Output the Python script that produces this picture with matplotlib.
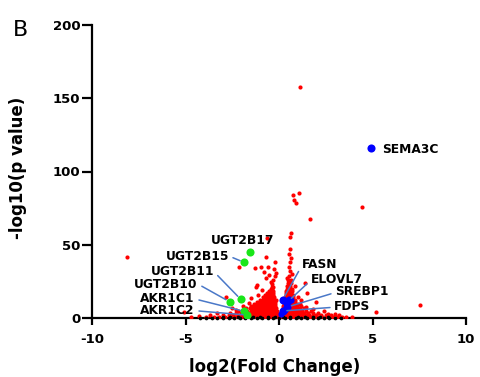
import matplotlib
matplotlib.use('Agg')
import matplotlib.pyplot as plt

plt.rcParams['font.family'] = ['DejaVu Sans']
plt.rcParams['font.weight'] = 'bold'
plt.rcParams['axes.unicode_minus'] = False

# ---- data (log2 FC, -log10 p) ----
# dense red cloud left of zero: row heights and the x positions in each row
left_rows_y = [0.8, 2, 3.5, 5, 6.5, 8, 9.5, 11, 12.5, 14, 15.5, 17, 18.5, 20, 21.5, 23]
left_rows_x = [
    [-3.9, -3.5, -3.2, -2.9, -2.6, -2.35, -2.15, -1.95, -1.8, -1.65, -1.5, -1.35, -1.2, -1.05, -0.9, -0.75, -0.6, -0.45, -0.3, -0.15, -0.05],
    [-3.0, -2.7, -2.45, -2.2, -2.0, -1.85, -1.7, -1.55, -1.4, -1.25, -1.1, -0.95, -0.8, -0.65, -0.5, -0.35, -0.2, -0.08],
    [-2.6, -2.3, -2.05, -1.85, -1.7, -1.55, -1.4, -1.28, -1.15, -1.0, -0.87, -0.73, -0.6, -0.47, -0.33, -0.2, -0.1],
    [-2.2, -1.9, -1.7, -1.52, -1.38, -1.24, -1.1, -0.97, -0.84, -0.71, -0.58, -0.45, -0.32, -0.2, -0.1],
    [-1.75, -1.55, -1.4, -1.26, -1.12, -0.99, -0.86, -0.74, -0.62, -0.5, -0.38, -0.26, -0.15],
    [-1.5, -1.32, -1.18, -1.05, -0.92, -0.8, -0.68, -0.56, -0.44, -0.32, -0.2],
    [-1.35, -1.2, -1.06, -0.93, -0.81, -0.69, -0.57, -0.45, -0.34, -0.22],
    [-1.15, -1.0, -0.88, -0.76, -0.64, -0.52, -0.41, -0.3, -0.2],
    [-1.0, -0.86, -0.74, -0.62, -0.5, -0.39, -0.28, -0.18],
    [-0.85, -0.72, -0.6, -0.48, -0.37, -0.27],
    [-0.75, -0.63, -0.51, -0.4, -0.3],
    [-0.62, -0.5, -0.4, -0.3],
    [-0.55, -0.43, -0.33],
    [-0.45, -0.36],
    [-0.4, -0.3],
    [-0.35],
]
# dense red cloud right of zero
right_rows_y = [0.8, 2, 3.5, 5, 6.5, 8, 9.5, 11, 12.5, 14, 15.5, 17, 18.5, 20, 22, 24, 26]
right_rows_x = [
    [0.05, 0.2, 0.35, 0.5, 0.65, 0.8, 0.95, 1.1, 1.25, 1.4, 1.55, 1.7, 1.85, 2.0, 2.15, 2.3, 2.5, 2.7, 2.9, 3.1, 3.35, 3.6, 3.9],
    [0.1, 0.25, 0.4, 0.55, 0.7, 0.85, 1.0, 1.15, 1.3, 1.45, 1.6, 1.8, 2.0, 2.25, 2.5, 2.8, 3.2],
    [0.12, 0.27, 0.42, 0.57, 0.72, 0.87, 1.02, 1.18, 1.35, 1.55, 1.8, 2.1],
    [0.15, 0.3, 0.45, 0.6, 0.75, 0.9, 1.05, 1.22, 1.45, 1.7],
    [0.2, 0.35, 0.5, 0.65, 0.8, 0.95, 1.12, 1.35],
    [0.22, 0.37, 0.52, 0.67, 0.82, 0.98, 1.15],
    [0.25, 0.4, 0.55, 0.7, 0.85, 1.0],
    [0.28, 0.42, 0.56, 0.7, 0.84],
    [0.3, 0.44, 0.58, 0.72, 0.86],
    [0.33, 0.47, 0.61, 0.75],
    [0.35, 0.49, 0.63, 0.77],
    [0.38, 0.52, 0.66],
    [0.4, 0.54, 0.68],
    [0.42, 0.56, 0.7],
    [0.45, 0.6],
    [0.48, 0.62],
    [0.5, 0.64],
]
# scattered red points
red_x = [1.12, 0.73, 1.05, 0.79, 0.89, 4.45, 1.64, 0.64, 0.59, -8.12, 7.55, 5.18, 1.39,
         -0.63, -2.14, -1.3, -0.98, -0.8, -0.57, -0.54, -0.71, -1.16, -1.25, -0.89, -2.86, -1.52, -0.71,
         -0.3, -0.22, -0.45, -0.15, -0.28, -0.2, -1.9, -2.3, -1.6, -1.1, -2.5, -3.3, -3.7, -4.3, -5.1, -4.7,
         0.55, 0.6, 0.52, 0.58, 0.62, 0.55, 0.6, 0.7, 0.45, 1.5, 2.0, 1.43, 1.8, 2.4, 1.2, 1.0, 0.85, 1.1, 3.0, 2.6]
red_y = [157.5, 84.2, 85.5, 80.3, 78.5, 75.5, 67.8, 58.0, 55.0, 41.4, 8.9, 4.1, 23.7,
         54.4, 35.0, 34.0, 35.0, 31.6, 35.0, 29.4, 27.0, 22.5, 21.4, 19.0, 14.5, 13.4, 41.9,
         26.0, 28.5, 24.5, 31.0, 33.5, 38.0, 8.5, 5.5, 10.5, 15.5, 7.0, 3.5, 2.2, 1.5, 4.3, 1.0,
         29.0, 32.0, 35.0, 38.0, 41.0, 44.0, 47.0, 30.0, 27.5, 17.0, 11.0, 7.7, 6.0, 4.5, 12.0, 14.5, 22.0, 9.5, 2.5, 3.0]
# non-significant genes sitting on the axis
black_rows_y = [0.3, 0.9]
black_rows_x = [
    [-4.2, -3.9, -3.6, -3.3, -3.0, -2.7, -2.4, -2.1, -1.8, -1.5, -1.2, -0.9, -0.6, -0.3, 0.0,
     0.3, 0.6, 0.9, 1.2, 1.5, 1.8, 2.1, 2.4, 2.7, 3.0, 3.3],
    [-3.0, -2.6, -2.2, -1.8, -1.4, -1.0, -0.6, -0.2, 0.2, 0.6, 1.0, 1.4, 1.8, 2.2, 2.6],
]

# highlighted genes
green_genes = ['UGT2B17', 'UGT2B15', 'UGT2B11', 'UGT2B10', 'AKR1C1', 'AKR1C2']
green_fc = [-1.55, -1.87, -2.05, -2.64, -1.85, -1.7]
green_p = [44.8, 38.0, 12.8, 11.1, 4.5, 2.0]
blue_genes = ['SEMA3C', 'FASN', 'ELOVL7', 'SREBP1', 'FDPS']
blue_fc = [4.93, 0.2, 0.5, 0.45, 0.2]
blue_p = [116.0, 12.5, 11.5, 7.5, 4.8]
blue_extra_fc = [0.35, 0.3, 0.65, 0.1, 0.55]
blue_extra_p = [10.0, 5.5, 12.0, 3.0, 13.0]

# label text placement (data coords), alignment, and whether a leader line is drawn
label_pos = {
    'UGT2B17': (-1.93, 52.8, 'center', False),
    'UGT2B15': (-2.68, 42.3, 'right', True),
    'UGT2B11': (-3.48, 31.6, 'right', True),
    'UGT2B10': (-4.34, 23.2, 'right', True),
    'AKR1C1': (-4.5, 13.0, 'right', True),
    'AKR1C2': (-4.5, 5.0, 'right', True),
    'SEMA3C': (5.52, 114.7, 'left', False),
    'FASN': (1.23, 36.4, 'left', True),
    'ELOVL7': (1.70, 26.2, 'left', True),
    'SREBP1': (3.0, 17.8, 'left', True),
    'FDPS': (2.95, 7.8, 'left', True),
}

fig = plt.figure(figsize=(4.8, 3.77), dpi=100)
ax = fig.add_axes([92 / 480, 59 / 377, 374 / 480, 293 / 377])

# red cloud
rx, ry = [], []
for yv, xs in zip(left_rows_y, left_rows_x):
    rx += xs
    ry += [yv] * len(xs)
for yv, xs in zip(right_rows_y, right_rows_x):
    rx += xs
    ry += [yv] * len(xs)
rx += red_x
ry += red_y
ax.scatter(rx, ry, s=9, c='#ff0000', linewidths=0, zorder=3)

bx, by = [], []
for yv, xs in zip(black_rows_y, black_rows_x):
    bx += xs
    by += [yv] * len(xs)
ax.scatter(bx, by, s=7, c='black', linewidths=0, zorder=4, clip_on=False)

ax.scatter(green_fc, green_p, s=34, c='#19e619', linewidths=0, zorder=5)
ax.scatter(blue_extra_fc, blue_extra_p, s=20, c='#0000ff', linewidths=0, zorder=5)
ax.scatter(blue_fc, blue_p, s=34, c='#0000ff', linewidths=0, zorder=5)

pts = dict(zip(green_genes + blue_genes, zip(green_fc + blue_fc, green_p + blue_p)))
for name, (tx, ty, ha, line) in label_pos.items():
    if line:
        rel = (1, 0.5) if ha == 'right' else (0, 0.45)
        ax.annotate(name, xy=pts[name], xytext=(tx, ty), ha=ha, va='center',
                    fontsize=8.8, fontweight='bold', zorder=6,
                    arrowprops=dict(arrowstyle='-', color='#4a78c8', lw=1.1,
                                    relpos=rel, shrinkA=1, shrinkB=3))
    else:
        ax.text(tx, ty, name, ha=ha, va='center', fontsize=8.8, fontweight='bold', zorder=6)

ax.set_xlim(-10, 10)
ax.set_ylim(0, 200)
ax.set_xticks([-10, -5, 0, 5, 10])
ax.set_yticks([0, 50, 100, 150, 200])
for s in ['top', 'right']:
    ax.spines[s].set_visible(False)
for s in ['left', 'bottom']:
    ax.spines[s].set_linewidth(1.6)
ax.tick_params(axis='x', direction='out', length=5, width=1.6, labelsize=9.5, pad=6)
ax.tick_params(axis='y', direction='out', length=7, width=1.6, labelsize=9.5, pad=1.5)
for lab in ax.get_xticklabels() + ax.get_yticklabels():
    lab.set_fontweight('bold')

ax.set_xlabel('log2(Fold Change)', fontsize=12, fontweight='bold')
ax.set_ylabel('-log10(p value)', fontsize=12, fontweight='bold')
ax.xaxis.set_label_coords(0.489, -0.135)
ax.yaxis.set_label_coords(-0.174, 0.514)

fig.text(0.043, 1 - 30 / 377, 'B', fontsize=16, fontweight='normal', ha='center', va='center')

fig.savefig('out.png', dpi=100)
